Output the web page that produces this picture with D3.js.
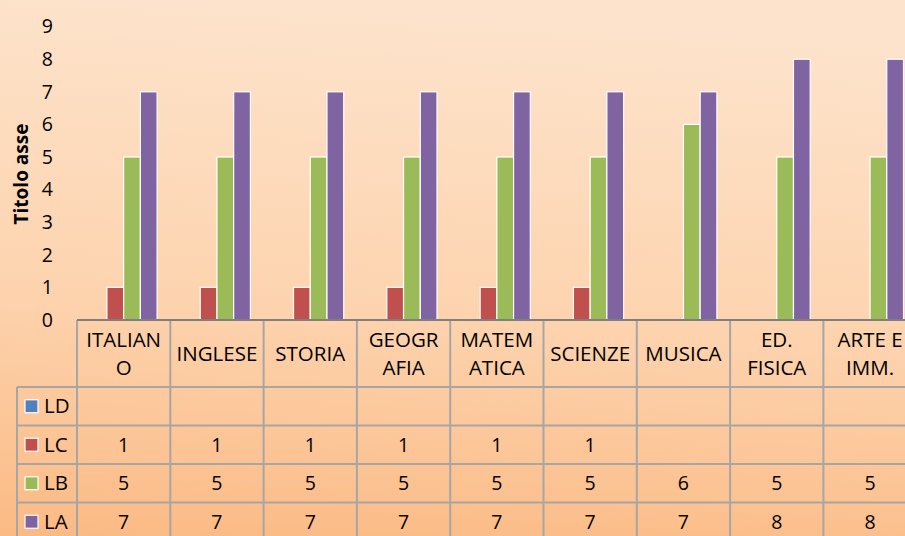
<!DOCTYPE html>
<html>
<head>
<meta charset="utf-8">
<script src="https://cdn.jsdelivr.net/npm/d3@7"></script>
<style>
  body { margin: 0; overflow: hidden; }
  svg { display: block; font-family: "Open Sans", sans-serif; }
</style>
</head>
<body>
<svg id="chart" width="905" height="536"></svg>
<script>
let categories = ["ITALIANO", "INGLESE", "STORIA", "GEOGRAFIA", "MATEMATICA", "SCIENZE", "MUSICA", "ED. FISICA", "ARTE E IMM."];
let categoryLines = [["ITALIAN", "O"], ["INGLESE"], ["STORIA"], ["GEOGR", "AFIA"], ["MATEM", "ATICA"], ["SCIENZE"], ["MUSICA"], ["ED.", "FISICA"], ["ARTE E", "IMM."]];
let seriesNames = ["LD", "LC", "LB", "LA"];
let LD = [null, null, null, null, null, null, null, null, null];
let LC = [1, 1, 1, 1, 1, 1, null, null, null];
let LB = [5, 5, 5, 5, 5, 5, 6, 5, 5];
let LA = [7, 7, 7, 7, 7, 7, 7, 8, 8];
let yTicks = [0, 1, 2, 3, 4, 5, 6, 7, 8, 9];
let colors = ["#4f81bd", "#c0504d", "#9bbb59", "#8064a2"];

let seriesValues = [LD, LC, LB, LA];

let width = 905, height = 536;
let plotLeft = 77, catWidth = 93.3;
let y0 = 320, yTop = 26.6;
let headerH = 67, rowH = 38.5, legendLeft = 17;

let svg = d3.select('#chart');

// background gradient
let defs = svg.append('defs');
let grad = defs.append('linearGradient').attr('id', 'bg')
    .attr('x1', '0.1').attr('y1', '0').attr('x2', '0').attr('y2', '1');
grad.append('stop').attr('offset', '0%').attr('stop-color', '#fde3cb');
grad.append('stop').attr('offset', '55%').attr('stop-color', '#fdd3ae');
grad.append('stop').attr('offset', '100%').attr('stop-color', '#fbba84');
let blur = defs.append('filter').attr('id', 'soft').attr('x', '-5%').attr('y', '-200%').attr('width', '110%').attr('height', '500%');
blur.append('feGaussianBlur').attr('stdDeviation', 1);

svg.append('rect').attr('width', width).attr('height', height).attr('fill', 'url(#bg)');

let x0 = d3.scaleBand().domain(categories).range([plotLeft, plotLeft + catWidth * categories.length]);
let x1 = d3.scaleBand().domain(seriesNames).range([13.2, catWidth - 13.2]);
let y = d3.scaleLinear().domain([0, 9]).range([y0, yTop]);

// gridlines
let yAxis = d3.axisLeft(y).tickValues(yTicks).tickSize(0).tickPadding(24).tickFormat(d3.format('d'));
svg.append('g').attr('class', 'grid')
    .selectAll('line').data(yTicks.filter(d => d > 0)).enter().append('line')
    .attr('x1', plotLeft + 3).attr('x2', width)
    .attr('y1', d => y(d)).attr('y2', d => y(d))
    .attr('stroke', '#c2916a')
    .attr('stroke-opacity', d => 0.8 - d * 0.05)
    .attr('stroke-width', 2.5)
    .attr('filter', 'url(#soft)');

let yg = svg.append('g').attr('transform', 'translate(' + plotLeft + ',0)').call(yAxis);
yg.select('.domain').remove();
yg.selectAll('text').attr('font-size', 19.5).attr('fill', '#000').attr('font-family', '"Open Sans", sans-serif');

svg.append('text')
    .attr('transform', 'translate(28,174) rotate(-90)')
    .attr('text-anchor', 'middle')
    .attr('font-size', 19).attr('font-weight', 'bold')
    .text('Titolo asse');

// bars
let groups = svg.selectAll('.cat').data(categories).enter().append('g')
    .attr('class', 'cat')
    .attr('transform', d => 'translate(' + x0(d) + ',0)');

groups.selectAll('rect')
    .data((d, i) => seriesNames.map((s, k) => ({s: s, v: seriesValues[k][i], c: colors[k]})).filter(e => e.v != null))
    .enter().append('rect')
    .attr('x', d => x1(d.s))
    .attr('y', d => y(d.v))
    .attr('width', x1.bandwidth())
    .attr('height', d => y0 - y(d.v))
    .attr('fill', d => d.c)
    .attr('stroke', '#fff').attr('stroke-width', 1.2);

// data table
let table = svg.append('g');
let lineColor = '#a6a6a6';
let rightEdge = plotLeft + catWidth * categories.length;

// horizontal lines
let hLines = [y0 + headerH];
seriesNames.forEach((s, k) => hLines.push(y0 + headerH + rowH * (k + 1)));
table.selectAll('.hl').data(hLines).enter().append('line')
    .attr('x1', legendLeft).attr('x2', rightEdge)
    .attr('y1', d => d).attr('y2', d => d)
    .attr('stroke', lineColor).attr('stroke-width', 2);

// vertical lines
let vLines = categories.map(c => x0(c)).concat([rightEdge]);
table.selectAll('.vl').data(vLines).enter().append('line')
    .attr('x1', d => d).attr('x2', d => d)
    .attr('y1', y0).attr('y2', height)
    .attr('stroke', lineColor).attr('stroke-width', 2);
table.append('line')
    .attr('x1', legendLeft).attr('x2', legendLeft)
    .attr('y1', y0 + headerH).attr('y2', height)
    .attr('stroke', lineColor).attr('stroke-width', 2);

// axis line
svg.append('line')
    .attr('x1', plotLeft).attr('x2', width)
    .attr('y1', y0).attr('y2', y0)
    .attr('stroke', '#7f7f7f').attr('stroke-width', 2);

// header labels
categories.forEach((c, i) => {
    let lines = categoryLines[i];
    let cx = x0(c) + catWidth / 2;
    let cy = y0 + headerH / 2;
    let lh = 28;
    let t = table.append('text').attr('text-anchor', 'middle').attr('font-size', 20.5);
    lines.forEach((l, j) => {
        t.append('tspan').attr('x', cx)
            .attr('y', cy + (j - (lines.length - 1) / 2) * lh + 7)
            .text(l);
    });
});

// rows
seriesNames.forEach((s, k) => {
    let cy = y0 + headerH + rowH * k + rowH / 2;
    table.append('rect')
        .attr('x', 25).attr('y', cy - 6.5)
        .attr('width', 13).attr('height', 13)
        .attr('fill', colors[k]).attr('stroke', '#fff').attr('stroke-width', 1.2);
    table.append('text').attr('x', 44).attr('y', cy + 7)
        .attr('font-size', 20.5).text(s);
    categories.forEach((c, i) => {
        let v = seriesValues[k][i];
        if (v == null) return;
        table.append('text')
            .attr('x', x0(c) + catWidth / 2).attr('y', cy + 7)
            .attr('text-anchor', 'middle').attr('font-size', 19.5)
            .text(v);
    });
});
</script>
</body>
</html>
